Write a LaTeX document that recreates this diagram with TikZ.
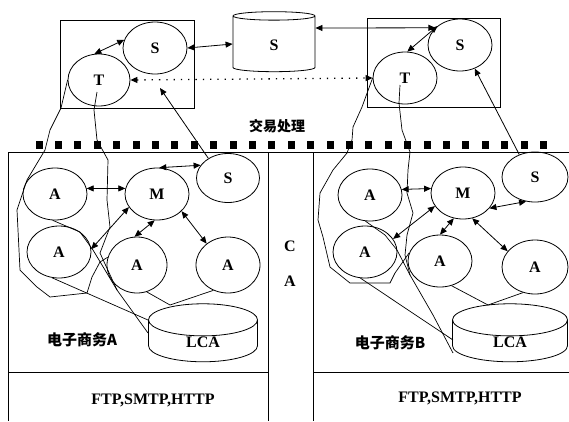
\documentclass[tikz,border=0pt]{standalone}
\usepackage{fontspec}
\setmainfont{Liberation Serif}
\newfontfamily\cjk{Noto Sans CJK SC}
\usetikzlibrary{arrows.meta,shapes.geometric,calc}

\newcommand{\lblfont}{\fontsize{16}{16}\selectfont\bfseries}
\newcommand{\low}[1]{\raisebox{-6pt}[0pt][0pt]{#1}}
\tikzset{
  agent/.style={draw, ellipse, line width=0.8pt, minimum width=64pt, minimum height=52pt,
                inner sep=0pt, font=\lblfont},
  store/.style={draw, cylinder, shape border rotate=90, aspect=0.95, line width=0.8pt,
                inner sep=0pt, font=\lblfont},
  dbl/.style={line width=0.8pt, {Triangle[length=7pt,width=6pt]}-{Triangle[length=7pt,width=6pt]}},
  one/.style={line width=0.8pt, -{Triangle[length=7pt,width=6pt]}},
  wire/.style={line width=0.7pt},
  frame/.style={line width=0.8pt},
}

\begin{document}
\begin{tikzpicture}[x=1pt, y=-1pt]
\useasboundingbox (0,0) rectangle (569,421);

% transaction layer
\draw[frame] (60,20) rectangle (194,108);
\draw[frame] (367,18) rectangle (500,107);
\node[agent] (lS) at (155,48) {S};
\node[agent, minimum width=62pt] (lT) at (99,80) {T};
\node[agent] (rS) at (460,45) {S};
\node[agent] (rT) at (405,78) {T};
\node[store, minimum width=82pt, minimum height=60pt] (db) at (274,44) {\low{S}};

\draw[dbl] (lT.100) -- (lS.165);
\draw[dbl] (rT.85) -- (rS.140);
\draw[dbl] (lS.east) -- (db.west);
\draw[dbl] ([yshift=16pt]db.east) -- (rS.145);
\draw[dbl, line width=1.3pt, dash pattern=on 1.3pt off 6pt] (lT.east) -- (rT.west);

\node[font=\cjk\fontsize{14}{14}\selectfont\bfseries] (tp) at (277,126) {交易处理};
\foreach \i in {0,...,26}
  \fill (35.5+\i*19.4,141) rectangle ++(7,8);

% frames of the two sites
\draw[frame] (8,152) -- (569,152);
\draw[frame] (8,152) -- (8,421);
\draw[frame] (268,152) -- (268,421);
\draw[frame] (313,152) -- (313,421);
\draw[frame] (8,372) -- (268,372);
\draw[frame] (313,372) -- (569,372);
\node[font=\lblfont] (ca1) at (290,246) {C};
\node[font=\lblfont] (ca2) at (290,281) {A};

% site A
\node[agent] (aA1) at (55,194) {A};
\node[agent] (aM) at (157,194) {M};
\node[agent, minimum width=63pt, minimum height=49pt] (aS) at (228,178) {S};
\node[agent] (aA2) at (59,252) {A};
\node[agent, minimum width=60pt, minimum height=56pt] (aA3) at (137,265) {A};
\node[agent, minimum height=56pt] (aA4) at (228,265) {A};
\node[store, minimum width=109pt, minimum height=58pt] (aLCA) at (203,341) {\low{LCA}};
\coordinate (aTx) at (160,88);
\coordinate (aLt) at (170,305);
\coordinate (aLw1) at (148,320);
\coordinate (aLw2) at (148,333);

\draw[dbl] (aA1.10) -- (aM.170);
\draw[dbl] (aA2.5) -- (aM.205);
\draw[dbl] (aA3.95) -- (aM.265);
\draw[dbl] (aA4.135) -- (aM.-35);
\draw[dbl] (aS.155) -- (aM.85);
\draw[one] (aS.135) -- (aTx);

\draw[wire] (lT.west) -- (61,108) -- (50,130) -- (45,150) -- (27,180) -- (17,210)
  -- (20,270) -- (37,287) -- (50,297) -- (87,293) -- (92,277) -- (100,262) -- (aA3.165);
\draw[wire] ($(lT)+(-2,12)$) -- (94,110) -- (97,140) -- (108,160) -- (107,200)
  -- (110,227) -- (100,253) -- (117,290) -- (aLw2);
\draw[wire] (aA1.-95) -- (80,232) -- (93,250) -- (117,290);
\draw[wire] (aA2.-105) -- (aLw1);
\draw[wire] (aA3.-70) -- (aLt) -- (aA4.-120);

\node[font=\cjk\fontsize{15}{15}\selectfont\bfseries] (aname) at (82,340) {电子商务A};
\node[font=\lblfont] (aprot) at (153,400) {FTP,SMTP,HTTP};

% site B
\node[agent] (bA1) at (370,195) {A};
\node[agent] (bM) at (463,193) {M};
\node[agent, minimum width=66pt, minimum height=50pt] (bS) at (535,177) {S};
\node[agent] (bA2) at (365,252) {A};
\node[agent] (bA3) at (440,261) {A};
\node[agent, minimum width=66pt, minimum height=54pt] (bA4) at (535,267) {A};
\node[store, minimum width=115pt, minimum height=58pt] (bLCA) at (510,341) {\low{LCA}};
\coordinate (bLt) at (488,305);
\coordinate (bLw1) at (453,340);
\coordinate (bLw2) at (453,353);

\draw[dbl] (bA1.10) -- (bM.172);
\draw[dbl] (bA2.25) -- (bM.205);
\draw[dbl] (bA3.90) -- (bM.250);
\draw[dbl] (bA4.150) -- (bM.-70);
\draw[dbl] (bS.250) -- (bM.-30);
\draw[one] (bS.125) -- (rS.-58);

\draw[wire] (rT.west) -- (362,107) -- (353,127) -- (352,140) -- (347,153) -- (333,170)
  -- (320,193) -- (318,220) -- (323,237) -- (330,267) -- (350,283) -- (390,283)
  -- (395,273) -- (bA3.165);
\draw[wire] ($(rT)+(-5,7)$) -- (399,103) -- (402,130) -- (410,152) -- (408,170) -- (407,193)
  -- (413,213) -- (407,235) -- (405,255) -- (410,275) -- (433,315) -- (bLw2);
\draw[wire] (bA1.-100) -- (385,235) -- (397,250) -- (410,275);
\draw[wire] (bA2.-100) -- (bLw1);
\draw[wire] (bA3.-65) -- (bLt) -- (bA4.-115);

\node[font=\cjk\fontsize{15}{15}\selectfont\bfseries] (bname) at (390,343) {电子商务B};
\node[font=\lblfont] (bprot) at (460,398) {FTP,SMTP,HTTP};
\end{tikzpicture}
\end{document}
